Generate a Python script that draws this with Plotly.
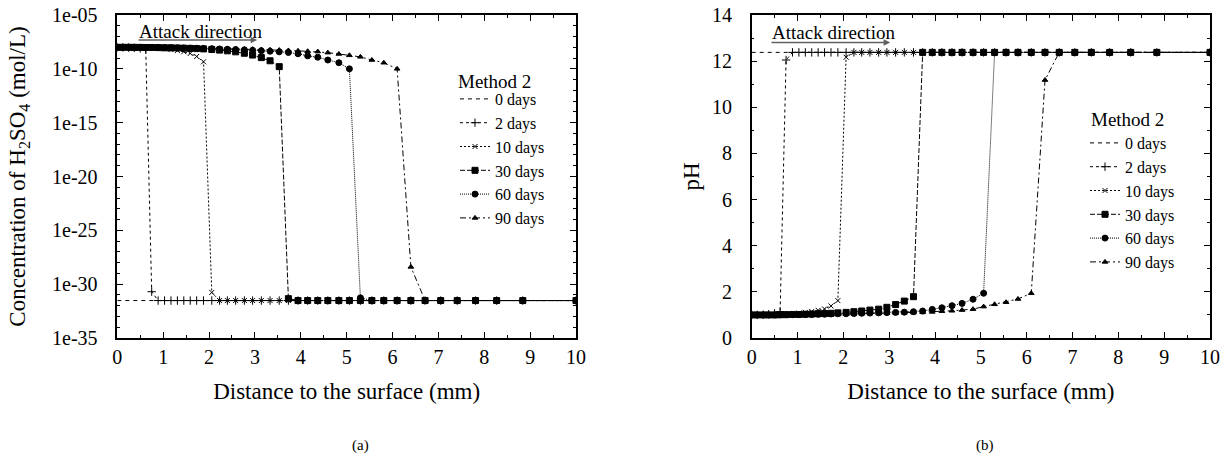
import plotly.graph_objects as go

# ---------------- data ----------------
distance_mm = [0.00, 0.12, 0.25, 0.37, 0.50, 0.62, 0.75, 0.89, 1.03, 1.17, 1.31,
               1.45, 1.59, 1.73, 1.88, 2.06, 2.23, 2.40, 2.58, 2.77, 2.95, 3.14,
               3.33, 3.53, 3.73, 3.94, 4.15, 4.37, 4.59, 4.83, 5.06, 5.30, 5.55,
               5.81, 6.10, 6.40, 6.71, 7.05, 7.41, 7.81, 8.27, 8.84, 10.00]

series_labels = ["0 days", "2 days", "10 days", "30 days", "60 days", "90 days"]
legend_title = "Method 2"

# concentration of H2SO4 (mol/L)
conc_0d = [3.0e-32, 3.0e-32, 3.0e-32, 3.0e-32, 3.0e-32, 3.0e-32, 3.0e-32, 3.0e-32, 3.0e-32,
           3.0e-32, 3.0e-32, 3.0e-32, 3.0e-32, 3.0e-32, 3.0e-32, 3.0e-32, 3.0e-32, 3.0e-32,
           3.0e-32, 3.0e-32, 3.0e-32, 3.0e-32, 3.0e-32, 3.0e-32, 3.0e-32, 3.0e-32, 3.0e-32,
           3.0e-32, 3.0e-32, 3.0e-32, 3.0e-32, 3.0e-32, 3.0e-32, 3.0e-32, 3.0e-32, 3.0e-32,
           3.0e-32, 3.0e-32, 3.0e-32, 3.0e-32, 3.0e-32, 3.0e-32, 3.0e-32]
conc_2d = [1.0e-8, 9.8e-9, 9.4e-9, 8.9e-9, 8.1e-9, 6.5e-9, 2.0e-31, 3.0e-32, 3.0e-32,
           3.0e-32, 3.0e-32, 3.0e-32, 3.0e-32, 3.0e-32, 3.0e-32, 3.0e-32, 3.0e-32, 3.0e-32,
           3.0e-32, 3.0e-32, 3.0e-32, 3.0e-32, 3.0e-32, 3.0e-32, 3.0e-32, 3.0e-32, 3.0e-32,
           3.0e-32, 3.0e-32, 3.0e-32, 3.0e-32, 3.0e-32, 3.0e-32, 3.0e-32, 3.0e-32, 3.0e-32,
           3.0e-32, 3.0e-32, 3.0e-32, 3.0e-32, 3.0e-32, 3.0e-32, 3.0e-32]
conc_10d = [1.0e-8, 1.0e-8, 9.8e-9, 9.6e-9, 9.3e-9, 9.0e-9, 8.5e-9, 7.9e-9, 7.1e-9,
            6.2e-9, 5.0e-9, 3.9e-9, 2.7e-9, 1.4e-9, 4.5e-10, 1.7e-31, 3.0e-32, 3.0e-32,
            3.0e-32, 3.0e-32, 3.0e-32, 3.0e-32, 3.0e-32, 3.0e-32, 3.0e-32, 3.0e-32, 3.0e-32,
            3.0e-32, 3.0e-32, 3.0e-32, 3.0e-32, 3.0e-32, 3.0e-32, 3.0e-32, 3.0e-32, 3.0e-32,
            3.0e-32, 3.0e-32, 3.0e-32, 3.0e-32, 3.0e-32, 3.0e-32, 3.0e-32]
conc_30d = [1.0e-8, 1.0e-8, 1.0e-8, 9.8e-9, 9.8e-9, 9.6e-9, 9.6e-9, 9.4e-9, 9.1e-9,
            8.9e-9, 8.7e-9, 8.3e-9, 7.9e-9, 7.6e-9, 7.1e-9, 6.3e-9, 5.5e-9, 4.7e-9,
            3.8e-9, 2.8e-9, 1.9e-9, 1.1e-9, 5.6e-10, 1.6e-10, 4.5e-32, 3.0e-32, 3.0e-32,
            3.0e-32, 3.0e-32, 3.0e-32, 3.0e-32, 3.0e-32, 3.0e-32, 3.0e-32, 3.0e-32, 3.0e-32,
            3.0e-32, 3.0e-32, 3.0e-32, 3.0e-32, 3.0e-32, 3.0e-32, 3.0e-32]
conc_60d = [1.0e-8, 1.0e-8, 1.0e-8, 9.9e-9, 9.8e-9, 9.7e-9, 9.6e-9, 9.4e-9, 9.2e-9,
            9.0e-9, 8.8e-9, 8.6e-9, 8.4e-9, 8.1e-9, 7.8e-9, 7.4e-9, 7.0e-9, 6.6e-9,
            6.2e-9, 5.8e-9, 5.3e-9, 4.8e-9, 4.3e-9, 3.8e-9, 3.3e-9, 2.5e-9, 1.6e-9,
            1.2e-9, 6.6e-10, 3.7e-10, 1.0e-10, 5.4e-32, 3.0e-32, 3.0e-32, 3.0e-32, 3.0e-32,
            3.0e-32, 3.0e-32, 3.0e-32, 3.0e-32, 3.0e-32, 3.0e-32, 3.0e-32]
conc_90d = [1.0e-8, 1.0e-8, 1.0e-8, 1.0e-8, 9.9e-9, 9.8e-9, 9.7e-9, 9.6e-9, 9.5e-9,
            9.4e-9, 9.2e-9, 9.0e-9, 8.8e-9, 8.6e-9, 8.4e-9, 8.1e-9, 7.8e-9, 7.5e-9,
            7.2e-9, 6.9e-9, 6.6e-9, 6.2e-9, 5.9e-9, 5.5e-9, 5.1e-9, 4.7e-9, 4.3e-9,
            4.0e-9, 3.2e-9, 2.4e-9, 1.8e-9, 1.3e-9, 6.6e-10, 3.7e-10, 1.0e-10, 4.0e-29,
            3.0e-32, 3.0e-32, 3.0e-32, 3.0e-32, 3.0e-32, 3.0e-32, 3.0e-32]

# pH
ph_0d = [12.38, 12.38, 12.38, 12.38, 12.38, 12.38, 12.38, 12.38, 12.38, 12.38, 12.38,
         12.38, 12.38, 12.38, 12.38, 12.38, 12.38, 12.38, 12.38, 12.38, 12.38, 12.38,
         12.38, 12.38, 12.38, 12.38, 12.38, 12.38, 12.38, 12.38, 12.38, 12.38, 12.38,
         12.38, 12.38, 12.38, 12.38, 12.38, 12.38, 12.38, 12.38, 12.38, 12.38]
ph_2d = [1.00, 1.00, 1.01, 1.03, 1.07, 1.14, 12.05, 12.38, 12.38, 12.38, 12.38,
         12.38, 12.38, 12.38, 12.38, 12.38, 12.38, 12.38, 12.38, 12.38, 12.38, 12.38,
         12.38, 12.38, 12.38, 12.38, 12.38, 12.38, 12.38, 12.38, 12.38, 12.38, 12.38,
         12.38, 12.38, 12.38, 12.38, 12.38, 12.38, 12.38, 12.38, 12.38, 12.38]
ph_10d = [1.00, 1.00, 1.00, 1.01, 1.02, 1.03, 1.04, 1.06, 1.08, 1.11, 1.15,
          1.20, 1.26, 1.39, 1.62, 12.17, 12.38, 12.38, 12.38, 12.38, 12.38, 12.38,
          12.38, 12.38, 12.38, 12.38, 12.38, 12.38, 12.38, 12.38, 12.38, 12.38, 12.38,
          12.38, 12.38, 12.38, 12.38, 12.38, 12.38, 12.38, 12.38, 12.38, 12.38]
ph_30d = [1.00, 1.00, 1.00, 1.00, 1.00, 1.01, 1.01, 1.02, 1.02, 1.03, 1.04,
          1.05, 1.06, 1.07, 1.09, 1.11, 1.14, 1.17, 1.21, 1.25, 1.33, 1.45,
          1.60, 1.79, 12.38, 12.38, 12.38, 12.38, 12.38, 12.38, 12.38, 12.38, 12.38,
          12.38, 12.38, 12.38, 12.38, 12.38, 12.38, 12.38, 12.38, 12.38, 12.38]
ph_60d = [1.00, 1.00, 1.00, 1.00, 1.00, 1.00, 1.01, 1.01, 1.01, 1.02, 1.02,
          1.03, 1.03, 1.04, 1.05, 1.05, 1.06, 1.07, 1.08, 1.09, 1.10, 1.11,
          1.12, 1.14, 1.17, 1.24, 1.31, 1.40, 1.50, 1.68, 1.94, 12.38, 12.38,
          12.38, 12.38, 12.38, 12.38, 12.38, 12.38, 12.38, 12.38, 12.38, 12.38]
ph_90d = [1.00, 1.00, 1.00, 1.00, 1.00, 1.00, 1.00, 1.01, 1.01, 1.01, 1.02,
          1.02, 1.02, 1.03, 1.03, 1.04, 1.04, 1.05, 1.06, 1.06, 1.07, 1.08,
          1.09, 1.10, 1.11, 1.13, 1.16, 1.18, 1.21, 1.25, 1.36, 1.46, 1.55,
          1.69, 1.94, 11.18, 12.38, 12.38, 12.38, 12.38, 12.38, 12.38, 12.38]

conc_tick_exponents = [-35, -30, -25, -20, -15, -10, -5]
conc_tick_labels = ["1e-35", "1e-30", "1e-25", "1e-20", "1e-15", "1e-10", "1e-05"]
ph_tick_values = [0, 2, 4, 6, 8, 10, 12, 14]
x_tick_values = [0, 1, 2, 3, 4, 5, 6, 7, 8, 9, 10]

# ---------------- styling ----------------
FONT = "Liberation Serif"
W, H = 1228, 459
TICK_FS = 20
TITLE_FS = 23
LEG_FS = 16


def px(xpix):
    return xpix / W


def py(ypix):
    return 1 - ypix / H


styles = [
    dict(dash="4px,4px", symbol=None, size=0),
    dict(dash="3px,3px", symbol="cross-thin", size=6),
    dict(dash="2px,2px", symbol="x-thin", size=5),
    dict(dash="5px,2px", symbol="square", size=6),
    dict(dash="1px,1px", symbol="circle", size=6),
    dict(dash="6px,3px,2px,3px", symbol="triangle-up", size=5),
]

conc_series = [conc_0d, conc_2d, conc_10d, conc_30d, conc_60d, conc_90d]
ph_series = [ph_0d, ph_2d, ph_10d, ph_30d, ph_60d, ph_90d]

fig = go.Figure()


def add_traces(series, xa, ya, legend_name):
    for lab, ys, st in zip(series_labels, series, styles):
        kw = dict(x=distance_mm, y=ys, name=lab, xaxis=xa, yaxis=ya, legend=legend_name,
                  line=dict(color="black", width=1, dash=st["dash"]))
        if st["symbol"] is None:
            kw["mode"] = "lines"
        else:
            kw["mode"] = "lines+markers"
            kw["marker"] = dict(symbol=st["symbol"], size=st["size"], color="black",
                                line=dict(color="black", width=1))
        fig.add_trace(go.Scatter(**kw))


add_traces(conc_series, "x", "y", "legend")
add_traces(ph_series, "x2", "y2", "legend2")

ydom = [py(338), py(15)]
xdom1 = [px(117.3), px(576)]
xdom2 = [px(751.7), px(1210)]

axis_common = dict(showline=True, linewidth=1.5, linecolor="black", mirror="allticks",
                   ticks="inside", ticklen=6, tickwidth=1, tickcolor="black",
                   showgrid=False, zeroline=False, automargin=False,
                   ticklabeloverflow="allow",
                   tickfont=dict(family=FONT, size=TICK_FS, color="black"))

xcommon = dict(axis_common, range=[0, 10], tickvals=x_tick_values,
               minor=dict(dtick=0.5, ticks="inside", ticklen=3, tickcolor="black"),
               title=dict(text="Distance to the surface (mm)",
                          font=dict(family=FONT, size=TITLE_FS, color="black"), standoff=16),
               ticklabelstandoff=0)

leg_common = dict(xanchor="left", yanchor="top", bgcolor="rgba(0,0,0,0)",
                  font=dict(family=FONT, size=LEG_FS, color="black"), tracegroupgap=0)

fig.update_layout(
    width=W, height=H, margin=dict(l=0, r=0, t=0, b=0, autoexpand=False),
    paper_bgcolor="white", plot_bgcolor="white",
    font=dict(family=FONT, color="black"),
    hovermode=False,
    xaxis=dict(xcommon, domain=xdom1, anchor="y"),
    xaxis2=dict(xcommon, domain=xdom2, anchor="y2"),
    yaxis=dict(axis_common, domain=ydom, anchor="x", type="log", range=[-35, -5],
               tickvals=[10.0 ** e for e in conc_tick_exponents], ticktext=conc_tick_labels,
               minor=dict(tickvals=[10.0 ** e for e in range(-35, -4)], ticks="inside",
                          ticklen=3, tickcolor="black"),
               ticklabelstandoff=14,
               title=dict(text="Concentration of H<sub>2</sub>SO<sub>4</sub> (mol/L)",
                          font=dict(family=FONT, size=TITLE_FS, color="black"), standoff=20)),
    yaxis2=dict(axis_common, domain=ydom, anchor="x2", range=[0, 14], tickvals=ph_tick_values,
                minor=dict(dtick=1, ticks="inside", ticklen=3, tickcolor="black"),
                ticklabelstandoff=14,
                title=dict(text="pH", font=dict(family=FONT, size=TITLE_FS, color="black"),
                           standoff=6)),
    legend=dict(leg_common, x=px(455), y=py(82)),
    legend2=dict(leg_common, x=px(1085), y=py(126)),
    showlegend=True,
)

annotations = []
for xa, ya, xstart, xend, yd, ytxt in [("x", "y", 0.43, 3.05, 1 - 25 / 323, 1 - 16 / 323),
                                       ("x2", "y2", 0.40, 3.02, 1 - 27.5 / 323, 1 - 18 / 323)]:
    annotations.append(dict(x=xend, y=yd, xref=xa, yref=ya + " domain", ax=xstart, ay=0,
                            axref=xa, ayref="pixel", text="", showarrow=True,
                            arrowhead=2, arrowsize=1, arrowwidth=1.3, arrowcolor="#606060"))
    annotations.append(dict(x=xstart, y=ytxt, xref=xa, yref=ya + " domain",
                            text="Attack direction", showarrow=False, xanchor="left",
                            yanchor="middle", font=dict(family=FONT, size=19, color="black")))
# legend headings
for xc, yc in [(494, 81), (1127, 120)]:
    annotations.append(dict(x=px(xc), y=py(yc), xref="paper", yref="paper", text=legend_title,
                            showarrow=False, xanchor="center", yanchor="middle",
                            font=dict(family=FONT, size=19, color="black")))
# sub-figure captions
for xc, cap in [(360, "(a)"), (985, "(b)")]:
    annotations.append(dict(x=px(xc), y=py(445), xref="paper", yref="paper", text=cap,
                            showarrow=False, xanchor="center", yanchor="middle",
                            font=dict(family=FONT, size=15, color="black")))
fig.update_layout(annotations=annotations)

fig.write_html("out.html", config={"displayModeBar": False},
               post_script="document.body.style.margin='0';document.body.style.overflow='hidden';")
